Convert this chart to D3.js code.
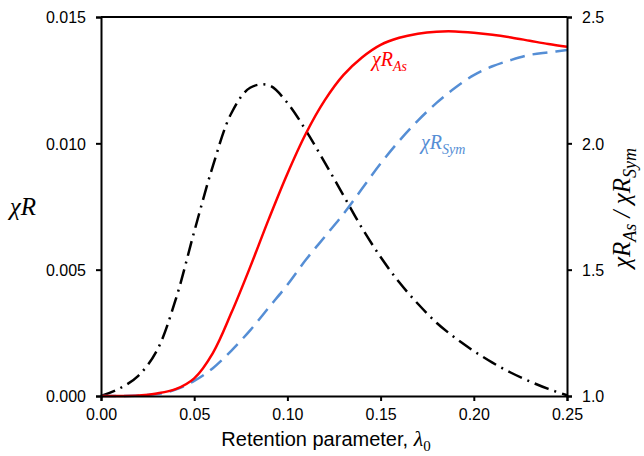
<!DOCTYPE html>
<html><head><meta charset="utf-8">
<script src="https://cdn.jsdelivr.net/npm/d3@7"></script>
<style>body{margin:0;background:#fff}svg{display:block}</style>
</head><body>
<svg id="c" width="644" height="456"></svg>
<script>
const lambda = [0,0.01,0.02,0.03,0.04,0.05,0.06,0.07,0.08,0.09,0.10,0.11,0.12,0.13,0.14,0.15,0.16,0.17,0.18,0.19,0.20,0.21,0.22,0.23,0.24,0.25];
const chiRAs = [0,0.000002,0.00002,0.0001,0.00027,0.0007,0.0017,0.0033,0.0051,0.0070,0.0088,0.0104,0.0117,0.0127,0.0134,0.0139,0.01418,0.01434,0.01442,0.01443,0.01438,0.01430,0.01419,0.01406,0.01393,0.01382];
const chiRSym = [0,0.000001,0.00002,0.00008,0.00025,0.0006,0.0011,0.0018,0.0026,0.0035,0.0044,0.0054,0.0063,0.0072,0.0082,0.0092,0.0101,0.0109,0.0116,0.0122,0.0127,0.01305,0.0133,0.0135,0.0136,0.01369];
const ratio = [1.0,1.03,1.08,1.18,1.38,1.65,1.91,2.12,2.22,2.23,2.16,2.05,1.925,1.795,1.665,1.55,1.45,1.365,1.29,1.23,1.178,1.132,1.092,1.058,1.028,1.003];
const xTicks = [0,0.05,0.10,0.15,0.20,0.25];
const yLeftTicks = [0,0.005,0.010,0.015];
const yRightTicks = [1.0,1.5,2.0,2.5];

const svg = d3.select("#c");
const L=101, R=567, T=17, B=396;
const x = d3.scaleLinear().domain([0,0.25]).range([L,R]);
const yL = d3.scaleLinear().domain([0,0.015]).range([B,T]);
const yR = d3.scaleLinear().domain([1.0,2.5]).range([B,T]);

const tickFont = "Liberation Sans, Arial, sans-serif";
function styleAxis(g){
  g.selectAll("path.domain").attr("stroke","#000").attr("stroke-width",2);
  g.selectAll(".tick line").attr("stroke","#000").attr("stroke-width",2);
  g.selectAll(".tick text").attr("font-family",tickFont).attr("font-size",16).attr("fill","#000");
}
const line = (ys, yscale) => d3.line().x((d,i)=>x(lambda[i])).y(d=>yscale(d)).curve(d3.curveCatmullRom.alpha(0.5))(ys);
svg.append("path").attr("d",line(ratio,yR)).attr("fill","none").attr("stroke","#000").attr("stroke-width",2.5).attr("stroke-dasharray","15,6,2,6");
svg.append("path").attr("d",line(chiRSym,yL)).attr("fill","none").attr("stroke","#558ED5").attr("stroke-width",2.5).attr("stroke-dasharray","15,8");
svg.append("path").attr("d",line(chiRAs,yL)).attr("fill","none").attr("stroke","#FF0000").attr("stroke-width",2.5);

svg.append("line").attr("x1",L).attr("x2",R).attr("y1",T).attr("y2",T).attr("stroke","#000").attr("stroke-width",2);

const gx = svg.append("g").attr("transform",`translate(0,${B})`)
  .call(d3.axisBottom(x).tickValues(xTicks).tickFormat(d3.format(".2f")).tickSizeOuter(0).tickSize(5).tickPadding(8));
styleAxis(gx);
const gl = svg.append("g").attr("transform",`translate(${L},0)`)
  .call(d3.axisLeft(yL).tickValues(yLeftTicks).tickFormat(d3.format(".3f")).tickSizeOuter(0).tickSize(5).tickPadding(10));
styleAxis(gl);
gl.selectAll(".tick text").attr("dy","0.36em");
const gr = svg.append("g").attr("transform",`translate(${R},0)`)
  .call(d3.axisRight(yR).tickValues(yRightTicks).tickFormat(d3.format(".1f")).tickSizeOuter(0).tickSize(5).tickPadding(10));
styleAxis(gr);
gr.selectAll(".tick text").attr("dy","0.36em");

const serif = "Liberation Serif, Times New Roman, serif";
const xt = svg.append("text").attr("x",(L+R)/2 - 8).attr("y",446).attr("text-anchor","middle")
  .attr("font-family",tickFont).attr("font-size",20).attr("fill","#000");
xt.append("tspan").text("Retention parameter, ");
xt.append("tspan").attr("font-family",serif).attr("font-style","italic").attr("font-size",22).text("λ");
xt.append("tspan").attr("font-family",serif).attr("font-size",15).attr("dy",5).text("0");

svg.append("text").attr("x",23).attr("y",215).attr("text-anchor","middle")
  .attr("font-family",serif).attr("font-style","italic").attr("font-size",25).attr("fill","#000").text("χR");

const rt = svg.append("text").attr("transform","translate(630,208) rotate(-90)").attr("text-anchor","middle")
  .attr("font-family",serif).attr("font-style","italic").attr("font-size",25).attr("fill","#000");
rt.append("tspan").text("χR");
rt.append("tspan").attr("font-size",18).attr("dy",6).text("As");
rt.append("tspan").attr("dy",-6).text(" / χR");
rt.append("tspan").attr("font-size",18).attr("dy",6).text("Sym");

const la = svg.append("text").attr("x",372).attr("y",66).attr("font-family",serif).attr("font-style","italic")
  .attr("font-size",20).attr("fill","#FF0000");
la.append("tspan").text("χR");
la.append("tspan").attr("font-size",14).attr("dy",5).text("As");
const ls = svg.append("text").attr("x",421).attr("y",149).attr("font-family",serif).attr("font-style","italic")
  .attr("font-size",20).attr("fill","#558ED5");
ls.append("tspan").text("χR");
ls.append("tspan").attr("font-size",14).attr("dy",5).text("Sym");
</script>
</body></html>
